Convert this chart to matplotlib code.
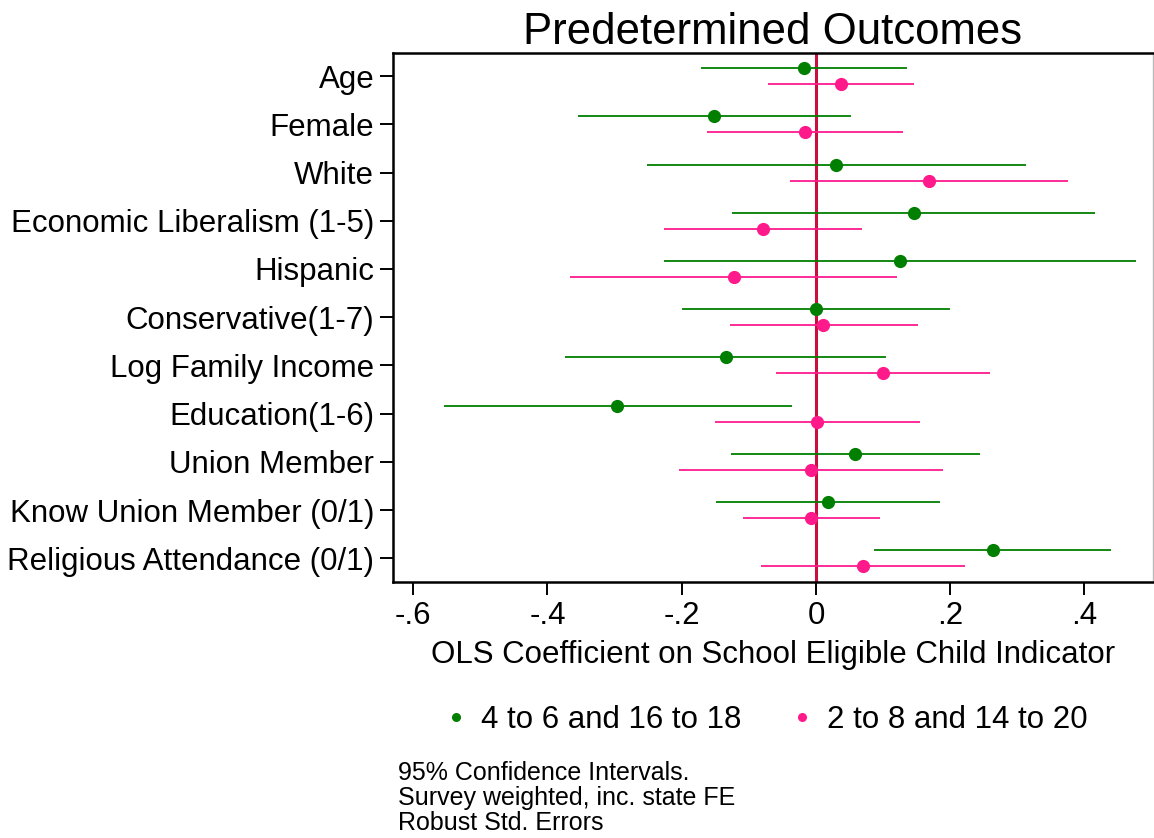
import numpy as np
import matplotlib
matplotlib.use("Agg")
import matplotlib.pyplot as plt
from matplotlib.lines import Line2D

plt.rcParams['font.family'] = ['Liberation Sans', 'DejaVu Sans']

# Outcomes listed from top to bottom
outcomes = ['Age', 'Female', 'White', 'Economic Liberalism (1-5)', 'Hispanic',
            'Conservative(1-7)', 'Log Family Income', 'Education(1-6)',
            'Union Member', 'Know Union Member (0/1)', 'Religious Attendance (0/1)']

# Ages 4 to 6 and 16 to 18
coef_a = [-0.018, -0.152, 0.030, 0.146, 0.125, 0.000, -0.134, -0.296, 0.058, 0.018, 0.263]
lo_a = [-0.171, -0.355, -0.252, -0.125, -0.227, -0.200, -0.374, -0.554, -0.127, -0.149, 0.087]
hi_a = [0.136, 0.052, 0.313, 0.416, 0.476, 0.199, 0.105, -0.036, 0.244, 0.185, 0.440]

# Ages 2 to 8 and 14 to 20
coef_b = [0.037, -0.016, 0.168, -0.079, -0.122, 0.011, 0.100, 0.002, -0.008, -0.007, 0.070]
lo_b = [-0.072, -0.162, -0.039, -0.226, -0.366, -0.128, -0.060, -0.151, -0.204, -0.108, -0.082]
hi_b = [0.146, 0.130, 0.376, 0.068, 0.121, 0.152, 0.259, 0.155, 0.189, 0.095, 0.222]

series_names = ['4 to 6 and 16 to 18', '2 to 8 and 14 to 20']
xticks = [-0.6, -0.4, -0.2, 0, 0.2, 0.4]
xtick_labels = ['-.6', '-.4', '-.2', '0', '.2', '.4']
notes = ['95% Confidence Intervals.', 'Survey weighted, inc. state FE', 'Robust Std. Errors']

GREEN = '#007F00'
PINK = '#FF1A8C'
RED = '#C8103E'
FS = 22.5

fig = plt.figure(figsize=(11.54, 8.38), dpi=100)
ax = fig.add_axes([0.3406, 0.3058, 0.6585, 0.6313])

y = np.arange(len(outcomes))
off = 0.166

ax.axvline(0, color=RED, lw=2.2, zorder=1)

for pos, c, lo, hi, col in [(y - off, coef_a, lo_a, hi_a, GREEN),
                             (y + off, coef_b, lo_b, hi_b, PINK)]:
    ax.hlines(pos, lo, hi, color=col, lw=1.3, zorder=2)
    ax.plot(c, pos, 'o', color=col, ms=9.5, mec='none', zorder=3)

ax.set_ylim(len(outcomes) - 1 + 0.485, -0.485)
ax.set_xlim(-0.630, 0.502)
ax.set_yticks(y)
ax.set_yticklabels(outcomes, fontsize=FS)
ax.set_xticks(xticks)
ax.set_xticklabels(xtick_labels, fontsize=FS)
ax.tick_params(axis='both', length=9.5, width=1.4, color='black')
ax.tick_params(axis='y', pad=4)
ax.tick_params(axis='x', pad=4.5)

for s in ['left', 'bottom', 'top']:
    ax.spines[s].set_linewidth(1.8)
ax.spines['right'].set_color('#BBBBBB')
ax.spines['right'].set_linewidth(1.0)

ax.set_xlabel('OLS Coefficient on School Eligible Child Indicator', fontsize=FS, labelpad=6)
ax.set_title('Predetermined Outcomes', fontsize=31.5, pad=5)

handles = [Line2D([], [], marker='o', ls='none', color=GREEN, ms=6.5, mec='none'),
           Line2D([], [], marker='o', ls='none', color=PINK, ms=6.5, mec='none')]
fig.legend(handles, series_names, loc='center', bbox_to_anchor=(0.662, 0.141),
           ncol=2, frameon=False, fontsize=FS, handletextpad=0.3,
           columnspacing=1.45, handlelength=1.0)

for i, line in enumerate(notes):
    fig.text(0.345, 1 - (773 + 25 * i) / 838, line, fontsize=18, va='center', ha='left')

fig.savefig('out.png', dpi=100, facecolor='white')
